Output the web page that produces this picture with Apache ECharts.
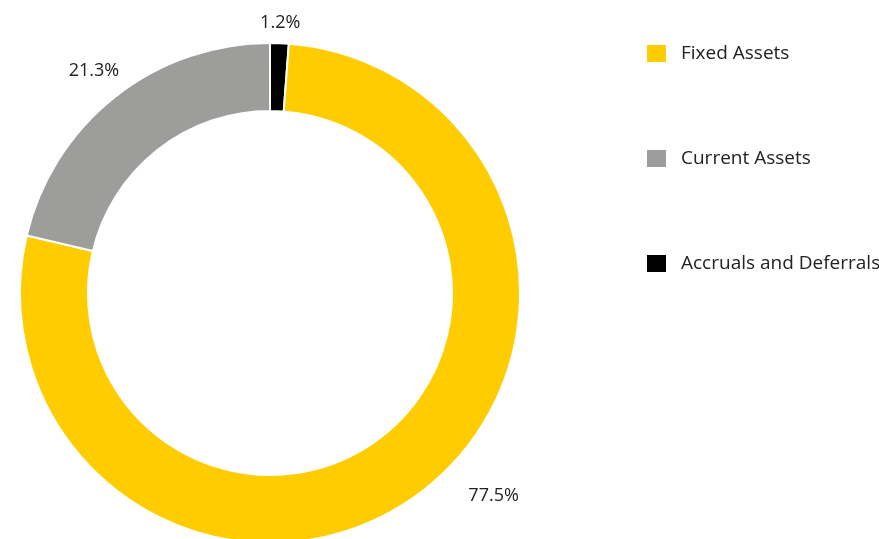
<!DOCTYPE html>
<html><head><meta charset="utf-8">
<script src="https://cdn.jsdelivr.net/npm/echarts@6/dist/echarts.min.js"></script>
<style>html,body{margin:0;padding:0;background:#fff}#c{width:879px;height:539px}</style>
</head><body><div id="c"></div>
<script>
const categories = ['Accruals and Deferrals', 'Fixed Assets', 'Current Assets'];
const values = [1.2, 77.5, 21.3];
const legendOrder = ['Fixed Assets', 'Current Assets', 'Accruals and Deferrals'];
const colors = { 'Fixed Assets': '#FFCC00', 'Current Assets': '#9D9D9C', 'Accruals and Deferrals': '#000000' };

const CX = 270, CY = 293, R_OUT = 250, R_IN = 182;
const LABEL_GAP = 261, LABEL_R_SHIFTED = 302, LABEL_MAX_Y = 496;
const total = values.reduce((a, b) => a + b, 0);

const chart = echarts.init(document.getElementById('c'), null, { renderer: 'canvas' });
chart.setOption({
  animation: false,
  textStyle: { fontFamily: 'Open Sans' },
  legend: {
    orient: 'vertical', left: 640, top: 38,
    itemWidth: 21, itemHeight: 19, itemGap: 84,
    icon: 'rect',
    data: legendOrder,
    textStyle: { fontSize: 19, color: '#222', padding: [0, 0, 0, 9], fontFamily: 'Open Sans' }
  },
  series: [{
    type: 'pie',
    center: [CX, CY],
    radius: [R_IN, R_OUT],
    startAngle: 90,
    clockwise: true,
    itemStyle: { borderColor: '#fff', borderWidth: 2 },
    label: {
      show: true, position: 'outside', formatter: '{c}%',
      fontSize: 18, color: '#222', fontFamily: 'Open Sans'
    },
    labelLine: { show: false },
    labelLayout: function (p) {
      const i = p.dataIndex;
      let before = 0;
      for (let k = 0; k < i; k++) before += values[k];
      const mid = (before + values[i] / 2) / total * Math.PI * 2;
      const s = Math.sin(mid), c = Math.cos(mid);
      const w = p.labelRect.width, h = p.labelRect.height;
      const d = LABEL_GAP + (w / 2) * Math.abs(s) + (h / 2) * Math.abs(c);
      let x = CX + d * s;
      let y = CY - d * c;
      if (y > LABEL_MAX_Y) {
        y = LABEL_MAX_Y;
        x = CX + Math.sqrt(LABEL_R_SHIFTED * LABEL_R_SHIFTED - (y - CY) * (y - CY)) * Math.sign(s);
      }
      return { x: x, y: y, align: 'center', verticalAlign: 'middle' };
    },
    emphasis: { disabled: true },
    data: categories.map((n, i) => ({ name: n, value: values[i], itemStyle: { color: colors[n] } }))
  }]
});
</script></body></html>
